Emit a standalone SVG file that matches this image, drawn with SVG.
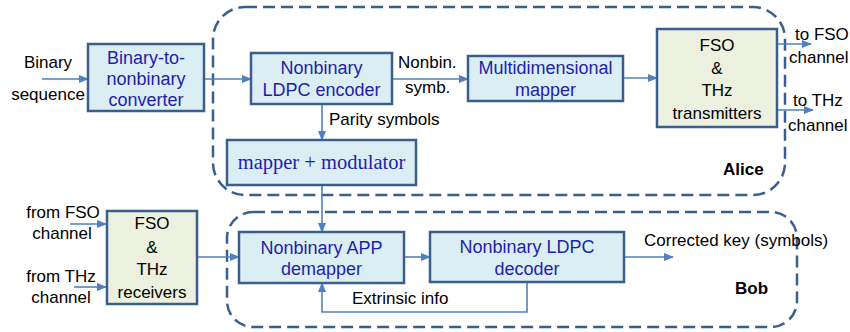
<svg xmlns="http://www.w3.org/2000/svg" width="850" height="332" viewBox="0 0 850 332">
<style>
.box{fill:#DBEEF4;stroke:#3A5F8E;stroke-width:2.5}
.grn{fill:#EBF1DE;stroke:#3A5F8E;stroke-width:2.5}
.dash{fill:none;stroke:#3A5F8E;stroke-width:2.5;stroke-dasharray:12 6}
.bt{font-family:"Liberation Sans",Arial,sans-serif;font-size:18px;fill:#1F1FA8;text-anchor:middle}
.kt{font-family:"Liberation Sans",Arial,sans-serif;font-size:17px;fill:#000}
.ktm{font-family:"Liberation Sans",Arial,sans-serif;font-size:17px;fill:#000;text-anchor:middle}
.st{font-family:"Liberation Serif","Times New Roman",serif;font-size:20.5px;fill:#1F1FA8;text-anchor:middle}
.bold{font-family:"Liberation Sans",Arial,sans-serif;font-size:17px;font-weight:bold;fill:#000}
.ar{fill:none;stroke:#4F81BD;stroke-width:1.6;marker-end:url(#ah)}
</style>
<defs>
<marker id="ah" markerWidth="10" markerHeight="8" refX="9" refY="4" orient="auto" markerUnits="userSpaceOnUse">
<path d="M0,0 L10,4 L0,8 z" fill="#4F81BD"/>
</marker>
</defs>
<g id="alice">
<rect class="dash" x="213" y="7" width="572" height="188" rx="32"/>
<text class="bold" x="723" y="175">Alice</text>
</g>
<g id="bob">
<rect class="dash" x="227" y="212" width="570" height="115" rx="26"/>
<text class="bold" x="735" y="294">Bob</text>
</g>
<g id="connectors">
<path class="ar" d="M42,79 H88"/>
<path class="ar" d="M204,79 H251"/>
<path class="ar" d="M392,79 H468"/>
<path class="ar" d="M623,78 H657"/>
<path class="ar" d="M777,44 H811"/>
<path class="ar" d="M777,110 H813"/>
<path class="ar" d="M322,104 V140"/>
<path class="ar" d="M322,185 V232"/>
<path class="ar" d="M70,224 H106"/>
<path class="ar" d="M74,287 H106"/>
<path class="ar" d="M197,257 H239"/>
<path class="ar" d="M404,257 H430"/>
<path class="ar" d="M624,257 H673"/>
<path class="ar" d="M527,282 V312 H322 V283"/>
<text class="kt" x="398" y="68">Nonbin.</text>
<text class="kt" x="405" y="93">symb.</text>
<text class="kt" x="329" y="125">Parity symbols</text>
<text class="kt" x="352" y="304">Extrinsic info</text>
<text class="kt" x="644" y="246">Corrected key (symbols)</text>
<text class="ktm" x="48" y="68">Binary</text>
<text class="ktm" x="48" y="100">sequence</text>
<text class="kt" x="795" y="40">to FSO</text>
<text class="kt" x="789" y="63">channel</text>
<text class="kt" x="793" y="106">to THz</text>
<text class="kt" x="788" y="131">channel</text>
<text class="ktm" x="63" y="218">from FSO</text>
<text class="ktm" x="62" y="239">channel</text>
<text class="ktm" x="61" y="282">from THz</text>
<text class="ktm" x="61" y="303">channel</text>
</g>
<g id="converter">
<rect class="box" x="88" y="44" width="116" height="67"/>
<text class="bt" x="146" y="64">Binary-to-</text>
<text class="bt" x="146" y="85">nonbinary</text>
<text class="bt" x="146" y="106">converter</text>
</g>
<g id="encoder">
<rect class="box" x="251" y="53" width="141" height="51"/>
<text class="bt" x="321.5" y="74">Nonbinary</text>
<text class="bt" x="321.5" y="96">LDPC encoder</text>
</g>
<g id="mapmod">
<rect class="box" x="227" y="140" width="189" height="45"/>
<text class="st" x="321.5" y="169">mapper + modulator</text>
</g>
<g id="multidim">
<rect class="box" x="468" y="56" width="155" height="45"/>
<text class="bt" x="545.5" y="74">Multidimensional</text>
<text class="bt" x="545.5" y="96">mapper</text>
</g>
<g id="transmitters">
<rect class="grn" x="657" y="29" width="120" height="98"/>
<text class="ktm" x="717" y="51">FSO</text>
<text class="ktm" x="717" y="74">&amp;</text>
<text class="ktm" x="717" y="96">THz</text>
<text class="ktm" x="717" y="119">transmitters</text>
</g>
<g id="receivers">
<rect class="grn" x="107" y="211" width="90" height="93"/>
<text class="ktm" x="152" y="229">FSO</text>
<text class="ktm" x="152" y="253">&amp;</text>
<text class="ktm" x="152" y="275">THz</text>
<text class="ktm" x="152" y="298">receivers</text>
</g>
<g id="demapper">
<rect class="box" x="239" y="232" width="165" height="51"/>
<text class="bt" x="321.5" y="254">Nonbinary APP</text>
<text class="bt" x="321.5" y="275">demapper</text>
</g>
<g id="decoder">
<rect class="box" x="430" y="232" width="194" height="50"/>
<text class="bt" x="527" y="253">Nonbinary LDPC</text>
<text class="bt" x="527" y="275">decoder</text>
</g>
</svg>
